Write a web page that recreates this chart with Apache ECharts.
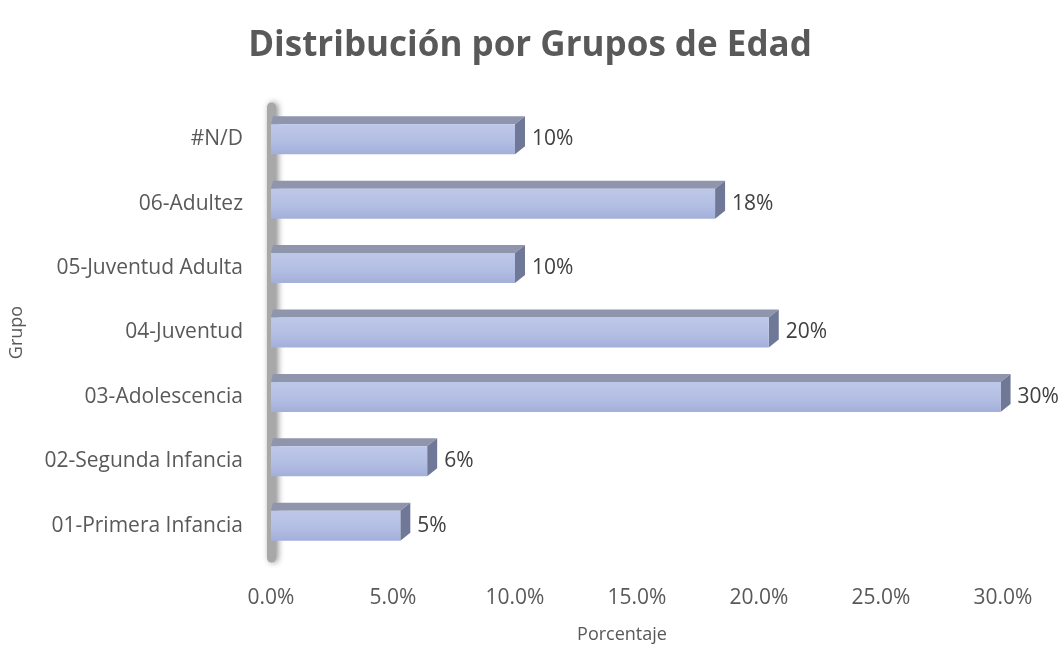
<!DOCTYPE html>
<html>
<head>
<meta charset="utf-8">
<script src="https://cdn.jsdelivr.net/npm/echarts@6/dist/echarts.min.js"></script>
<style>
  html, body { margin: 0; padding: 0; background: #fff; }
  #chart { width: 1060px; height: 649px; }
</style>
</head>
<body>
<div id="chart"></div>
<script>
// categorías (de abajo hacia arriba, como en el eje)
const grupos = ['01-Primera Infancia', '02-Segunda Infancia', '03-Adolescencia', '04-Juventud',
  '05-Juventud Adulta', '06-Adultez', '#N/D'];
// porcentajes
const porcentajes = [5.3, 6.4, 29.9, 20.4, 10.0, 18.2, 10.0];

const chart = echarts.init(document.getElementById('chart'));
const fuente = 'Open Sans';

// barra 3D: frente, cara superior y lateral derecho
function barra3D(params, api) {
  const cat = api.value(0);
  const val = api.value(1);
  const p0 = api.coord([0, cat]);
  const p1 = api.coord([val, cat]);
  const h = 30, dx = 10, dy = 8;
  const yTop = p0[1] - h / 2;
  const yBot = p0[1] + h / 2;
  const x0 = p0[0], x1 = p1[0];
  return {
    type: 'group',
    children: [
      {
        type: 'polygon',
        shape: { points: [[x0, yTop], [x1, yTop], [x1 + dx, yTop - dy], [x0 + 2, yTop - dy]] },
        style: { fill: '#8e95ad' }
      },
      {
        type: 'polygon',
        shape: { points: [[x1, yTop], [x1 + dx, yTop - dy], [x1 + dx, yBot - dy], [x1, yBot]] },
        style: { fill: '#6f7896' }
      },
      {
        type: 'rect',
        shape: { x: x0, y: yTop, width: x1 - x0, height: h },
        style: {
          fill: new echarts.graphic.LinearGradient(0, 0, 0, 1, [
            { offset: 0, color: '#bdc8e9' },
            { offset: 0.6, color: '#b2bde3' },
            { offset: 1, color: '#a3afd9' }
          ])
        }
      },
      {
        type: 'text',
        style: {
          text: Math.round(val) + '%',
          x: x1 + dx + 7,
          y: p0[1],
          verticalAlign: 'middle',
          fill: '#404040',
          font: '21px "' + fuente + '"'
        }
      }
    ]
  };
}

chart.setOption({
  animation: false,
  title: {
    text: 'Distribución por Grupos de Edad',
    left: 'center',
    top: 24,
    textStyle: { fontFamily: fuente, fontSize: 35, fontWeight: 'bold', color: '#595959' }
  },
  grid: { left: 270, right: 57, top: 107, bottom: 83 },
  xAxis: {
    type: 'value',
    min: 0,
    max: 30,
    interval: 5,
    name: 'Porcentaje',
    nameLocation: 'middle',
    nameGap: 68,
    nameTextStyle: { fontFamily: fuente, fontSize: 18, color: '#595959', padding: [0, 30, 0, 0] },
    splitLine: { show: false },
    axisLine: { show: false },
    axisTick: { show: false },
    axisLabel: {
      margin: 30,
      fontFamily: fuente,
      fontSize: 21,
      color: '#595959',
      formatter: v => v.toFixed(1) + '%'
    }
  },
  yAxis: {
    type: 'category',
    data: grupos,
    name: 'Grupo',
    nameLocation: 'middle',
    nameGap: 245,
    nameTextStyle: { fontFamily: fuente, fontSize: 18, color: '#595959' },
    axisTick: { show: false },
    axisLine: {
      show: true,
      lineStyle: { color: '#a8a8a8', width: 9, shadowColor: 'rgba(0,0,0,0.45)', shadowBlur: 6, shadowOffsetX: 2 }
    },
    axisLabel: { margin: 28, fontFamily: fuente, fontSize: 21, color: '#595959' }
  },
  series: [{
    type: 'custom',
    renderItem: barra3D,
    encode: { x: 1, y: 0 },
    data: porcentajes.map((v, i) => [i, v])
  }]
});
</script>
</body>
</html>
